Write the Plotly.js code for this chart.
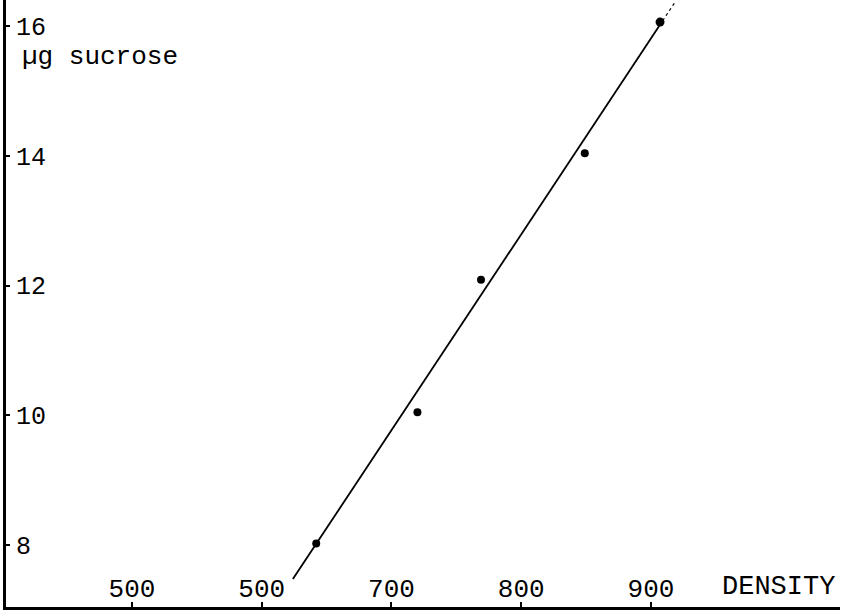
<!DOCTYPE html>
<html>
<head>
<meta charset="utf-8">
<script src="https://cdn.plot.ly/plotly-3.0.1.min.js"></script>
<style>html,body{margin:0;padding:0;background:#fff;}#chart{width:844px;height:611px;}</style>
</head>
<body>
<div id="chart"></div>
<script>
// Measured points
const density = [642, 720, 769, 849, 907];
const sucrose = [8.03, 10.05, 12.09, 14.04, 16.06];
// Hand-drawn fitted line (solid part and dashed tail)
const fitX = [624, 909];
const fitY = [7.48, 16.08];
const tailX = [909, 919];
const tailY = [16.08, 16.38];
// Axis ticks
const xTickVals = [500, 600, 700, 800, 900];
const xTickText = ["500", "500", "700", "800", "900"];
const yTickVals = [8, 10, 12, 14, 16];
const yTickText = ["8", "10", "12", "14", "16"];
const yLabel = "\u00b5g sucrose";
const xLabel = "DENSITY";

const FONT = "Liberation Mono, Courier New, monospace";

const traces = [
  {x: fitX, y: fitY, mode: "lines", line: {color: "#000", width: 1.8}, hoverinfo: "skip"},
  {x: tailX, y: tailY, mode: "lines", line: {color: "#000", width: 1.2, dash: "3px,3px"}, hoverinfo: "skip"},
  {x: density, y: sucrose, mode: "markers",
   marker: {color: "#000", opacity: 1, size: [8, 8, 8, 8, 9], line: {width: 0}}, cliponaxis: false}
];

const layout = {
  width: 844, height: 611,
  margin: {l: 6, r: 4, t: 0, b: 4},
  paper_bgcolor: "#fff", plot_bgcolor: "#fff",
  showlegend: false,
  font: {family: FONT, color: "#000", size: 26},
  xaxis: {
    range: [402.9, 1045.7], showgrid: false, zeroline: false,
    showline: true, linecolor: "#000", linewidth: 3,
    tickmode: "array", tickvals: xTickVals, ticktext: xTickText,
    ticks: "inside", ticklen: 5, tickwidth: 2, tickcolor: "#000",
    ticklabelposition: "inside", ticklabelstandoff: 2,
    tickfont: {family: FONT, size: 26, color: "#000"}
  },
  yaxis: {
    range: [7.05, 16.40], showgrid: false, zeroline: false,
    showline: true, linecolor: "#000", linewidth: 3,
    tickmode: "array", tickvals: yTickVals, ticktext: yTickText,
    ticks: "inside", ticklen: 4, tickwidth: 2, tickcolor: "#000",
    ticklabelposition: "inside", ticklabelstandoff: 8,
    tickfont: {family: FONT, size: 25, color: "#000"}
  },
  annotations: [
    {xref: "x", yref: "y", x: 414, y: 15.52, text: yLabel, showarrow: false,
     xanchor: "left", yanchor: "middle", font: {family: FONT, size: 26, color: "#000"}},
    {xref: "x", yref: "y", x: 953, y: 7.36, text: xLabel, showarrow: false,
     xanchor: "left", yanchor: "middle", font: {family: FONT, size: 27, color: "#000"}}
  ]
};

Plotly.newPlot("chart", traces, layout, {displayModeBar: false, staticPlot: true});
</script>
</body>
</html>
